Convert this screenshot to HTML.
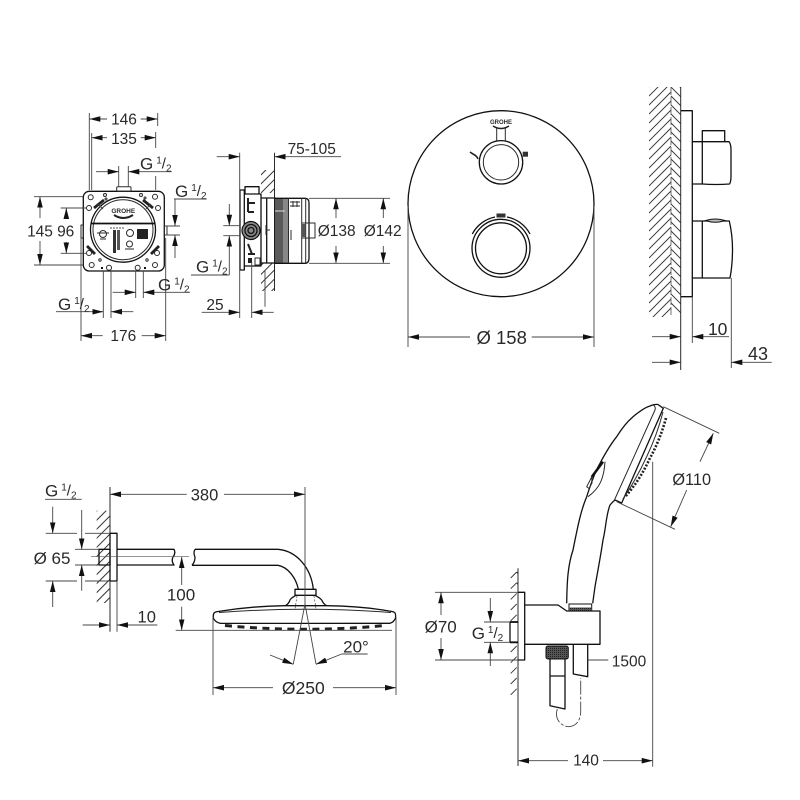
<!DOCTYPE html>
<html><head><meta charset="utf-8"><style>
html,body{margin:0;padding:0;background:#fff}
svg{display:block;filter:blur(.3px)}
.l{fill:none;stroke:#2a2a2a;stroke-width:1;stroke-linejoin:round}
.o{fill:none;stroke:#111;stroke-width:1.3;stroke-linejoin:round}
.d{fill:none;stroke:#444;stroke-width:.9}
.a{fill:none;stroke:#444;stroke-width:.9;marker-end:url(#ah)}
.h{fill:none;stroke:#333;stroke-width:.9}
text{font-family:"Liberation Sans",sans-serif;font-size:15.5px;fill:#2a2a2a;text-anchor:middle}
.g{text-anchor:start}
</style></head><body>
<svg width="800" height="800" viewBox="0 0 800 800" xmlns="http://www.w3.org/2000/svg">
<defs>
<marker id="ah" markerUnits="userSpaceOnUse" markerWidth="11" markerHeight="7" viewBox="-11 -3.5 11 7" refX="0" refY="0" orient="auto"><path d="M-11,-2.8L0,0L-11,2.8Z" fill="#111"/></marker>
<pattern id="hL" patternUnits="userSpaceOnUse" width="6.4" height="6.4" patternTransform="rotate(-45)"><line x1="0" y1="1" x2="6.4" y2="1" stroke="#333" stroke-width="1"/></pattern>
<pattern id="kn" patternUnits="userSpaceOnUse" width="2" height="2"><rect width="2" height="2" fill="#555"/><rect width="1" height="1" fill="#222"/></pattern>
<clipPath id="wallc"><rect x="649" y="87" width="32" height="230"/></clipPath>
</defs>

<!-- ROUGH-IN FRONT -->
<g>
<rect class="o" x="83.3" y="191.3" width="81" height="79.7" rx="6"/>
<rect class="l" x="116.7" y="186.7" width="14.3" height="4.6" rx="1"/>
<rect class="l" x="81" y="225" width="2.3" height="13"/>
<rect class="l" x="164.3" y="226" width="2.7" height="9"/>
<circle class="o" cx="123" cy="229.7" r="32.5"/><circle class="l" cx="123" cy="229.7" r="30"/>
<path d="M91.5,223.5H154.5" stroke="#111" stroke-width="1.8" fill="none"/>
<g class="l">
<circle cx="90.7" cy="197.3" r="2.5"/><circle cx="155" cy="196.7" r="2.5"/>
<circle cx="89" cy="208" r="2.5"/><circle cx="158" cy="208" r="2.5"/>
<circle cx="89" cy="253" r="2.5"/><circle cx="157" cy="253" r="2.5"/>
<circle cx="91.7" cy="265" r="2.5"/><circle cx="155" cy="265" r="2.5"/>
<circle cx="109" cy="267.7" r="2.5"/><circle cx="137.7" cy="267.7" r="2.5"/>
<circle cx="105" cy="195" r="1.5"/><circle cx="106" cy="199" r="1"/><circle cx="141" cy="195" r="1.5"/><circle cx="145" cy="198" r="1"/>
<circle cx="100" cy="260" r="1.2"/><circle cx="147" cy="260" r="1.2"/>
</g>
<path d="M94,208L104,200M143,200L153,208M87,246L95,254M151,254L159,246" stroke="#222" stroke-width="2.8" fill="none"/>
<path d="M98,204L103,209M146,209L151,204" stroke="#444" stroke-width="1" fill="none"/>
<text x="123.3" y="213" style="font-size:6.5px;font-weight:bold">GROHE</text>
<path d="M114,215Q123.5,221 133,215" stroke="#222" stroke-width="2" fill="none"/>
<circle class="l" cx="103" cy="234" r="3.5"/><path d="M97,233H109M100,239H106" class="l"/>
<circle class="l" cx="130" cy="233" r="3.5"/><circle class="l" cx="129.5" cy="244" r="3"/><path d="M125,249H134" class="l"/>
<rect x="137" y="229" width="11" height="10" fill="#222"/>
<rect x="113" y="230" width="3" height="23" fill="#333"/><rect x="117" y="230" width="3" height="20" fill="#555"/>
<path d="M110,228H125" stroke="#555" stroke-width="1" stroke-dasharray="2 1" fill="none"/>
<path d="M102,267V269M145,267V269" stroke="#111" stroke-width="2" fill="none"/>

<path class="d" d="M89.3,113V190M157.7,113V126M91.7,133V190M155.7,132V148M155.7,176V190M118.7,166V187M128.3,166V187"/>
<path class="a" d="M107,119H89.3"/><path class="a" d="M140.7,119H157.7"/>
<path class="a" d="M107,137.7H91.7"/><path class="a" d="M140.7,137.7H155.7"/>
<text x="124" y="124.5">146</text><text x="124" y="144">135</text>
<path class="a" d="M96,171.7H118.7"/><path class="a" d="M171.7,171.7H128.3"/>
<text class="g" x="140" y="169.5" style="font-size:17px">G<tspan dx="3" dy="-6" style="font-size:10px">1</tspan><tspan dy="5" style="font-size:15px">/</tspan><tspan dy="3" style="font-size:10px">2</tspan></text>
<path class="d" d="M165,226H180M165,235H180"/>
<path class="d" d="M174,199H206.7"/>
<path class="a" d="M175,199V226"/><path class="a" d="M175,258V235"/>
<text class="g" x="175" y="197" style="font-size:17px">G<tspan dx="3" dy="-6" style="font-size:10px">1</tspan><tspan dy="5" style="font-size:15px">/</tspan><tspan dy="3" style="font-size:10px">2</tspan></text>
<path class="d" d="M34,196.7H83M34,265H83M60.7,208H87M60.7,253.3H87"/>
<path class="a" d="M40,218V196.7"/><path class="a" d="M40,241V265"/>
<path class="a" d="M66.3,219V208"/><path class="a" d="M66.3,242V253.3"/>
<text x="40" y="236.5">145</text><text x="65.7" y="236.5">96</text>
<path class="d" d="M103.3,271V318M111,271V318M135.7,271V298M143.3,271V298M81,238V341M165.7,238V341"/>
<path class="a" d="M56,311.7H103.3"/><path class="a" d="M133.3,311.7H111"/>
<text class="g" x="58" y="310" style="font-size:17px">G<tspan dx="3" dy="-6" style="font-size:10px">1</tspan><tspan dy="5" style="font-size:15px">/</tspan><tspan dy="3" style="font-size:10px">2</tspan></text>
<path class="a" d="M112.7,292.3H135.7"/><path class="a" d="M190,292.3H143.3"/>
<text class="g" x="158" y="290.5" style="font-size:17px">G<tspan dx="3" dy="-6" style="font-size:10px">1</tspan><tspan dy="5" style="font-size:15px">/</tspan><tspan dy="3" style="font-size:10px">2</tspan></text>
<path class="a" d="M102.7,335.7H81"/><path class="a" d="M141.7,335.7H165.7"/>
<text x="123.3" y="341">176</text>
</g>

<!-- ROUGH-IN SIDE -->
<g>
<rect x="261" y="170" width="13.7" height="23" fill="url(#hL)"/>
<rect x="261" y="263" width="13.7" height="28" fill="url(#hL)"/>
<path class="l" d="M274.5,152.7V291"/>
<path class="o" d="M240,190H244.3V270H240ZM244.3,194H261V266H244.3ZM245,186.7H259V194H245ZM261,198H266.7V263H261"/>
<path class="o" d="M266.7,198H275V263H266.7"/>
<rect x="275" y="198.5" width="13.5" height="64.5" fill="#5a5a5a"/>
<rect x="283" y="198.5" width="5.5" height="64.5" fill="#888"/>
<path d="M275,211H285" stroke="#ddd" stroke-width="1"/>
<path class="o" d="M275,198.3H305Q309,198.3 309,203V258Q309,263.3 305,263.3H275"/>
<path class="l" d="M288.5,198.3V263.3M301.7,198.3V263.3M305.7,198.3V263.3M290,202H300M290,206H300M293,201V207M297,201V207M291,230V240"/>
<path class="l" d="M301.7,223H315V238H301.7"/>
<rect x="301.7" y="224" width="4" height="13" fill="#555"/>
<circle cx="251" cy="230.5" r="9" fill="#888" stroke="#111" stroke-width="1.2"/><circle class="o" cx="251" cy="230.5" r="6" fill="#fff"/><circle class="o" cx="251" cy="230.5" r="3"/>
<path d="M248,198V212M248,212H254M248,203H255M248,244L252,254M248,254H255" stroke="#222" stroke-width="2" fill="none"/>
<rect x="248" y="258" width="4" height="5" fill="#222"/><rect class="l" x="255" y="258" width="5" height="7"/>
<path class="l" d="M266,225V235M270,230H266"/>
<path class="d" d="M239.7,152.7V318M251.7,262V318M265,270V306.7"/>
<path class="a" d="M216.7,156.7H239.7"/><path class="a" d="M341,156.7H274.5"/>
<text x="311.7" y="154">75-105</text>
<path class="d" d="M309,198.3H390M309,263.3H390"/>
<path class="a" d="M336,218V198.3"/><path class="a" d="M336,246V263.3"/>
<path class="a" d="M383.3,218V198.3"/><path class="a" d="M383.3,246V263.3"/>
<text x="336.7" y="236">Ø138</text><text x="382.7" y="236">Ø142</text>
<path class="d" d="M223.3,225.7H240M223.3,235.7H240M191,275H229.3"/>
<path class="a" d="M229.3,204V225.7"/><path class="a" d="M229.3,275V235.7"/>
<text class="g" x="196" y="272.7" style="font-size:17px">G<tspan dx="3" dy="-6" style="font-size:10px">1</tspan><tspan dy="5" style="font-size:15px">/</tspan><tspan dy="3" style="font-size:10px">2</tspan></text>
<path class="a" d="M201.7,312.3H239.7"/><path class="a" d="M273.7,312.3H251.7"/>
<text x="215" y="310">25</text>
</g>

<!-- PLATE FRONT -->
<g>
<circle class="o" cx="501" cy="203.7" r="93"/>
<circle class="o" cx="501" cy="162.3" r="21.7"/><circle class="l" cx="501" cy="162.3" r="17.7"/>
<circle class="o" cx="501" cy="248.3" r="29"/><circle class="o" cx="501" cy="248.3" r="25.5"/>
<path class="o" d="M472.3,234A33,33 0 0 1 495,217M507,217A33,33 0 0 1 530,234"/>
<path class="l" d="M496.7,128V141.7M505.3,128V141.7"/>
<text x="501" y="124" style="font-size:6px;font-weight:bold">GROHE</text>
<path d="M493,126Q501,131 509,126" stroke="#222" stroke-width="1.5" fill="none"/>
<rect x="496.5" y="213.5" width="9" height="4" fill="#333"/>
<path d="M470,152L473,154Q477,156 478,159" stroke="#222" stroke-width="1.6" fill="none"/>
<rect x="522.7" y="151.7" width="5.3" height="5" fill="#333"/>
<path class="d" d="M408,206V347M594,206V347"/>
<path class="a" d="M470,337H408"/><path class="a" d="M531.7,337H594"/>
<text x="501.7" y="344" style="font-size:18.5px">Ø 158</text>
</g>

<!-- PLATE SIDE -->
<g>
<g clip-path="url(#wallc)">
<path class="h" d="M671,65l-22,22m22,-13l-22,22m22,-13l-22,22m22,-13l-22,22m22,-13l-22,22m22,-13l-22,22m22,-13l-22,22m22,-13l-22,22m22,-13l-22,22m22,-13l-22,22m22,-13l-22,22m22,-13l-22,22m22,-13l-22,22m22,-13l-22,22m22,-13l-22,22m22,-13l-22,22m22,-13l-22,22m22,-13l-22,22m22,-13l-22,22m22,-13l-22,22m22,-13l-22,22m22,-13l-22,22m22,-13l-22,22m22,-13l-22,22m22,-13l-22,22m22,-13l-22,22m22,-13l-22,22m22,-13l-22,22"/>
<path class="h" d="M671,78l10,10m-10,-1l10,10m-10,-1l10,10m-10,-1l10,10m-10,-1l10,10m-10,-1l10,10m-10,-1l10,10m-10,-1l10,10m-10,-1l10,10m-10,-1l10,10m-10,-1l10,10m-10,-1l10,10m-10,-1l10,10m-10,-1l10,10m-10,-1l10,10m-10,-1l10,10m-10,-1l10,10m-10,-1l10,10m-10,-1l10,10m-10,-1l10,10m-10,-1l10,10m-10,-1l10,10m-10,-1l10,10m-10,-1l10,10m-10,-1l10,10m-10,-1l10,10"/>
</g>
<path d="M671,87V317" stroke="#555" stroke-width=".8" stroke-dasharray="8 2"/>
<path class="l" d="M680.7,87V370"/>
<path class="o" d="M681,110.7H692.3V296.7H681"/>
<path class="o" d="M692.3,141.7H729Q731,144 731,150V176Q731,182 729.5,184Q716,185 702.3,184H692.3"/>
<path class="o" d="M702.3,141.7V184M702.3,141.7V130.7H724.7V141.7"/>
<path class="o" d="M692.3,221H729.3Q732.5,235 732.5,249Q732.5,265 730,278H692.3M702.3,221V278"/>
<path d="M705.7,220.5Q715,217.5 725,220.5Q715,224 705.7,220.5Z" fill="#bbb" stroke="#111" stroke-width="1"/>
<path class="d" d="M692.3,296.7V343M731.3,278V368"/>
<path class="a" d="M652,336.7H680.7"/><path class="a" d="M729,336.7H692.3"/>
<text x="717.7" y="335" style="font-size:17.5px">10</text>
<path class="a" d="M652,362.3H680.7"/><path class="a" d="M771.7,362.3H731.3"/>
<text x="758" y="360" style="font-size:18px">43</text>
</g>

<!-- HEAD SHOWER -->
<g>
<rect x="96.7" y="510.7" width="13.3" height="92.3" fill="url(#hL)"/>
<path class="l" d="M110,487V631.7"/>
<rect class="o" x="99" y="549.3" width="11" height="15.7" fill="#fff"/>
<rect class="o" x="110" y="533.3" width="7" height="47.7"/>
<path class="o" d="M117,549.3H174Q176,553 173,557Q171,561 174,565H117"/>
<path class="o" d="M195,549.3H278C297,551 311,568 313.3,589M192,565.3H278C288,567 296,578 298.3,589M195,549.3Q193,553 195,557Q195,562 192,565.3"/>
<path d="M91,556.7H189" stroke="#555" stroke-width=".7" fill="none"/>
<path class="o" d="M295,589.3H316V595.3H295Z"/>
<path class="o" d="M296,595.3C293,597 291,598 290,600C289,603 287,605 285,605.7M315,595.3C318,597 320,598 321.7,600C323,603 325,605 326.7,605.7"/>
<path d="M297,596L295,609M314,596L316,609" stroke="#444" stroke-width=".7" stroke-dasharray="2 1.5" fill="none"/>
<path class="o" d="M213.3,618C213,613 214,612 218,611.5Q252,606 285,605.7H326.7Q362,606 392,611.5C395,612 396,613 395.5,618Q394,622 390,623.3Q305,623.5 220,623.3Q215,622 213.3,618Z"/>
<path class="l" d="M219,612.5Q305,606 391,612.5"/>
<path d="M225,625.5Q305,633 385,625.5" stroke="#222" stroke-width="3" stroke-dasharray="7 5.5" fill="none"/>
<path class="d" d="M305,487V605M175.7,630.3H392"/>
<path class="d" d="M45,499.3H81.7M45.7,533.3H77M85,533.3H110M45.7,581H77M85,581H110M75,549.3H99M75,565H99M117,581V631.7"/>
<path class="a" d="M81.7,510V549.3"/><path class="a" d="M81.7,590.7V565"/>
<text class="g" x="45" y="496.7" style="font-size:17px">G<tspan dx="3" dy="-6" style="font-size:10px">1</tspan><tspan dy="5" style="font-size:15px">/</tspan><tspan dy="3" style="font-size:10px">2</tspan></text>
<path class="a" d="M52.7,506.7V533.3"/><path class="a" d="M52.7,607V581"/>
<text x="52" y="564" style="font-size:17px">Ø 65</text>
<path class="a" d="M186.7,494.3H110"/><path class="a" d="M224,494.3H305"/>
<text x="204.5" y="500.5" style="font-size:16.5px">380</text>
<path class="a" d="M181.7,585V557"/><path class="a" d="M181.7,606.7V630.3"/>
<text x="181" y="600.7" style="font-size:17px">100</text>
<path class="a" d="M82.7,625H110"/><path class="a" d="M157.3,625H117"/>
<text x="146.7" y="622.3" style="font-size:16.5px">10</text>
<path class="d" d="M305,604L293.3,664M305,604L316,664"/>
<path class="a" d="M270,655L293.3,664.3"/>
<path class="d" d="M341.7,654H367.7"/>
<path class="a" d="M341.7,654L316,664.3"/>
<text x="356" y="652.7" style="font-size:17px">20°</text>
<path class="d" d="M213,617V695M396,617V695"/>
<path class="a" d="M273,687.7H213"/><path class="a" d="M333,687.7H396"/>
<text x="303.3" y="694" style="font-size:17.5px">Ø250</text>
</g>

<!-- HAND SHOWER -->
<g>
<path class="d" d="M652.7,461.7V766.7"/>
<path class="o" d="M566.7,603.3C567,580 568,565 573,550C578,525 581,510 586.7,496.7C592,480 596,470 600,463.3C606,452 610,445 616.7,436.7C622,428 628,421 633,416.7C640,411 646,407 650,406C652,405 656,404 658,404.5L663.3,408.3L621.7,503L615,500L613,501.7L610,505C606,515 606,528 603,540C600,560 597,575 595,586.7L592.7,603.3"/>
<path class="l" d="M653.3,405Q656,407 655,410L614,501"/>
<path d="M666,418Q660,440 650,458Q640,480 625,497" stroke="#222" stroke-width="2.6" stroke-dasharray="2 1.6" fill="none"/>
<path class="l" d="M663,412Q657,435 647,456Q637,478 623,499"/>
<path d="M591.7,477L603,461.7" stroke="#111" stroke-width="2.5" fill="none"/>
<path class="l" d="M591.7,477L586.7,486.7L589,488.5L592,483L591.7,477M605,461.7C604,478 600,488 588,496.7"/>
<path class="d" d="M663.3,406.7L719.3,433.3M616.7,501.7L675,529.3"/>
<path class="a" d="M700,461.7L713.3,433.3"/><path class="a" d="M686.7,490L670.7,526.7"/>
<text x="691.7" y="485" style="font-size:16.3px">Ø110</text>
</g>
<g>
<path class="l" d="M518,568.3V766"/>
<path class="h" d="M516.7,572L510.7,578M516.7,572L518,574M516.7,582.7L510.7,588.7M516.7,582.7L518,584.7M516.7,593.4L510.7,599.4M516.7,604L510.7,610M516.7,614.8L510.7,620.8M516.7,646L510.7,652M516.7,656.7L510.7,662.7M516.7,667.4L510.7,673.4M516.7,678L510.7,684M516.7,688.8L510.7,694.8"/>
<path class="o" d="M518,592.3H524.7V660H518"/>
<path class="o" d="M518,622H510V642.3H518"/>
<path d="M510,622H518M510,642.3H518" stroke="#111" stroke-width="1.8"/>
<path class="o" d="M524.7,605H558L566.7,611H600V644.3H524.7"/>
<rect x="569" y="604" width="22.7" height="6.7" fill="#fff" stroke="#111" stroke-width="1"/>
<rect x="569" y="607.5" width="22.7" height="3.2" fill="url(#kn)"/>
<rect x="546" y="646" width="22.3" height="13" rx="2" fill="url(#kn)" stroke="#111" stroke-width="1"/>
<path class="o" d="M550,659V705.7L565,709V659M550,676H565"/>
<path class="o" d="M573.3,644.3V674L587.7,676.7V644.3"/>
<path d="M557.3,709C554,720 562,726.7 569,726.7C578,726 581,718 580.7,710V678" stroke="#444" stroke-width=".9" fill="none" stroke-dasharray="14 2 3 2"/>
<path class="d" d="M587.7,660H608.3"/>
<text x="629" y="666.7">1500</text>
<path class="d" d="M435,592.3H518M435,660H518M484,622H510M484,642.3H510"/>
<path class="a" d="M441,615V592.3"/><path class="a" d="M441,638V660"/>
<text x="440.7" y="632.3" style="font-size:17px">Ø70</text>
<path class="a" d="M490.3,598V622"/><path class="a" d="M490.3,666V642.3"/>
<text class="g" x="471.7" y="639" style="font-size:17px">G<tspan dx="3" dy="-6" style="font-size:10px">1</tspan><tspan dy="5" style="font-size:15px">/</tspan><tspan dy="3" style="font-size:10px">2</tspan></text>
<path class="a" d="M568,760.7H518"/><path class="a" d="M603,760.7H652.7"/>
<text x="586" y="765.7">140</text>
</g>
</svg>
</body></html>
